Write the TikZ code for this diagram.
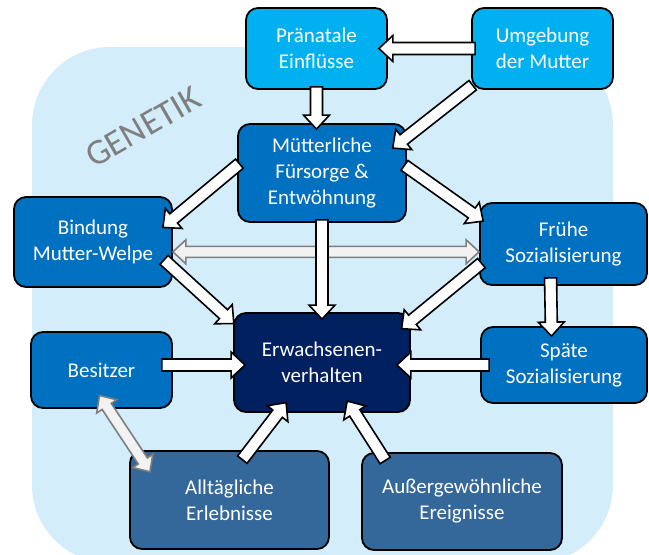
\documentclass[tikz,border=0pt]{standalone}
\usepackage{fontspec}
\setmainfont{Carlito}
\usetikzlibrary{calc}
\definecolor{bgblue}{HTML}{D3EDFA}
\definecolor{lightblue}{HTML}{00B0F0}
\definecolor{midblue}{HTML}{0070C0}
\definecolor{darkblue}{HTML}{002060}
\definecolor{slateblue}{HTML}{34679A}
\definecolor{arrowgrey}{HTML}{7F7F7F}
\definecolor{arrowfill}{HTML}{F2F2F2}
\tikzset{
  box/.style={draw=black, line width=1.8pt, rounded corners=12pt, text=white,
    align=center, inner sep=0pt, font=\fontsize{21}{26}\selectfont},
  lightbox/.style={box, fill=lightblue},
  midbox/.style={box, fill=midblue},
  darkbox/.style={box, fill=darkblue},
  slatebox/.style={box, fill=slateblue},
  whitearrow/.style={draw=black, fill=white, line width=1.6pt},
  greyarrow/.style={draw=arrowgrey, fill=arrowfill, line width=1.6pt},
}
% block arrow: [style]{start}{end}{start overlap}{tip overlap}
\newcommand{\barrow}[5][whitearrow]{%
  \coordinate (ba-a) at (#2);
  \coordinate (ba-b) at (#3);
  \coordinate (ba-s) at ($(ba-a)!-#4pt!(ba-b)$);
  \coordinate (ba-e) at ($(ba-b)!-#5pt!(ba-a)$);
  \coordinate (ba-h) at ($(ba-e)!14pt!(ba-s)$);
  \draw[#1] ($(ba-s)!6pt!-90:(ba-e)$) -- ($(ba-h)!6pt!-90:(ba-e)$)
    -- ($(ba-h)!13pt!-90:(ba-e)$) -- (ba-e) -- ($(ba-h)!13pt!90:(ba-e)$)
    -- ($(ba-h)!6pt!90:(ba-e)$) -- ($(ba-s)!6pt!90:(ba-e)$) -- cycle;
}
% double block arrow, same arguments
\newcommand{\bdarrow}[5][greyarrow]{%
  \coordinate (ba-a) at (#2);
  \coordinate (ba-b) at (#3);
  \coordinate (ba-s) at ($(ba-a)!-#4pt!(ba-b)$);
  \coordinate (ba-e) at ($(ba-b)!-#5pt!(ba-a)$);
  \coordinate (ba-g) at ($(ba-s)!13pt!(ba-e)$);
  \coordinate (ba-h) at ($(ba-e)!13pt!(ba-s)$);
  \draw[#1] (ba-s) -- ($(ba-g)!12pt!-90:(ba-e)$) -- ($(ba-g)!5.5pt!-90:(ba-e)$)
    -- ($(ba-h)!5.5pt!-90:(ba-e)$) -- ($(ba-h)!12pt!-90:(ba-e)$) -- (ba-e)
    -- ($(ba-h)!12pt!90:(ba-e)$) -- ($(ba-h)!5.5pt!90:(ba-e)$)
    -- ($(ba-g)!5.5pt!90:(ba-e)$) -- ($(ba-g)!12pt!90:(ba-e)$) -- cycle;
}
\begin{document}
\begin{tikzpicture}[x=1pt, y=-1pt]
\useasboundingbox (0,0) rectangle (649,555);

% background
\fill[bgblue, rounded corners=78pt] (32,47) rectangle (613,563);
\node[text=arrowgrey, font=\fontsize{36}{36}\selectfont, rotate=30] (gen) at (143,127) {GENETIK};

% boxes
\node[lightbox, minimum width=141pt, minimum height=81pt] (prae) at (316.5,48.5) {Pränatale\\Einflüsse};
\node[lightbox, minimum width=141pt, minimum height=81pt] (umg) at (542.5,48.5) {Umgebung\\der Mutter};
\node[midbox, minimum width=168pt, minimum height=98pt] (muet) at (322,173) {Mütterliche\\Fürsorge \&\\Entwöhnung};
\node[midbox, minimum width=158pt, minimum height=90pt] (bind) at (93,242) {Bindung\\Mutter-Welpe};
\node[midbox, minimum width=167pt, minimum height=82pt] (frueh) at (563.5,244) {Frühe\\Sozialisierung};
\node[darkbox, minimum width=176pt, minimum height=99pt] (erw) at (322,362.5) {Erwachsenen-\\verhalten};
\node[midbox, minimum width=141pt, minimum height=76pt] (bes) at (101.5,370) {Besitzer};
\node[midbox, minimum width=166pt, minimum height=76pt] (spaet) at (564,365) {Späte\\Sozialisierung};
\node[slatebox, minimum width=199pt, minimum height=98pt] (allt) at (229.5,500) {Alltägliche\\Erlebnisse};
\node[slatebox, minimum width=200pt, minimum height=97pt] (auss) at (462,501.5) {Außergewöhnliche\\Ereignisse};

% arrows
\bdarrow{bind.353}{bind.353 -| frueh.west}{0}{0}
\bdarrow{bes.280}{allt.152}{16}{26}
\barrow{umg.west}{prae.east}{4}{9}
\barrow{prae.south}{prae.south |- muet.north}{3}{6}
\barrow{umg.208}{muet.23}{2}{18}
\barrow{muet.175}{bind.16}{3}{13}
\barrow{muet.4}{frueh.163}{3}{5}
\barrow{muet.south}{erw.north}{3}{7}
\barrow{bind.342}{erw.156}{12}{1}
\barrow{frueh.194}{erw.25}{3}{12}
\barrow{frueh.253}{spaet.108}{8}{10}
\barrow{spaet.west}{spaet.west -| erw.east}{9}{14}
\barrow{bes.4}{bes.4 -| erw.west}{11}{12}
\barrow{allt.68}{erw.229}{12}{13}
\barrow{auss.149}{erw.303}{10}{14}

\end{tikzpicture}
\end{document}
